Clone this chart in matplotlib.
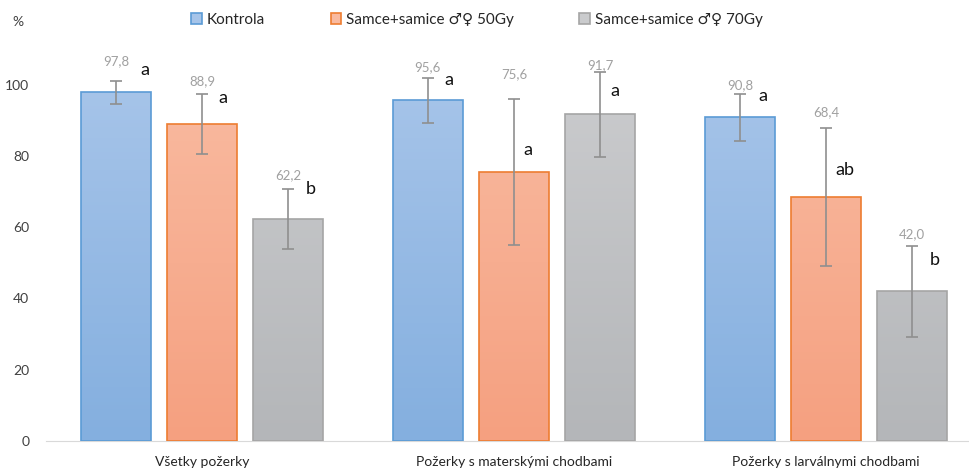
import numpy as np
import matplotlib
matplotlib.use("Agg")
import matplotlib.pyplot as plt
from matplotlib.colors import LinearSegmentedColormap

plt.rcParams['font.family'] = ['Lato', 'DejaVu Sans']

categories = ["Všetky požerky", "Požerky s materskými chodbami", "Požerky s larválnymi chodbami"]
series_names = ["Kontrola", "Samce+samice \u2642\u2640 50Gy", "Samce+samice \u2642\u2640 70Gy"]
kontrola = [97.8, 95.6, 90.8]
gy50 = [88.9, 75.6, 68.4]
gy70 = [62.2, 91.7, 42.0]
err_kontrola = [3.1, 6.3, 6.6]
err_gy50 = [8.4, 20.5, 19.4]
err_gy70 = [8.4, 11.9, 12.7]
letters_kontrola = ["a", "a", "a"]
letters_gy50 = ["a", "a", "ab"]
letters_gy70 = ["b", "a", "b"]

values = [kontrola, gy50, gy70]
errors = [err_kontrola, err_gy50, err_gy70]
letters = [letters_kontrola, letters_gy50, letters_gy70]

# gradient top / bottom colors and edge colors
grad = [("#a6c4e9", "#84afdf"), ("#f9baa0", "#f5a080"), ("#cacbcd", "#b4b6b9")]
edges = ["#5b9bd5", "#ed7d31", "#a5a5a5"]
# label offsets above error bar top, letter placement (x shift, y)
label_off = [[5.7, 2.9, 2.4], [3.6, 6.8, 4.5], [4.0, 1.9, 3.3]]
letter_dx = [[0.080, 0.052, 0.058], [0.052, 0.030, 0.030], [0.058, 0.032, 0.058]]
letter_y = [[104.0, 101.3, 96.8], [96.2, 81.6, 76.0], [70.7, 98.2, 50.8]]

fig = plt.figure(figsize=(9.7, 4.68), dpi=100)
ax = fig.add_axes([46 / 970, 1 - 441 / 468, 936 / 970, 392 / 468])

x = np.arange(len(categories))
width = 0.224
offsets = [-0.276, 0.0, 0.276]

for i in range(3):
    xs = x + offsets[i]
    bars = ax.bar(xs, values[i], width, color="none", edgecolor=edges[i],
                  linewidth=1.2, zorder=3, label=series_names[i])
    cmap = LinearSegmentedColormap.from_list("g%d" % i, [grad[i][1], grad[i][0]])
    for b in bars:
        bx, bw = b.get_x(), b.get_width()
        im = ax.imshow(np.linspace(0, 1, 100).reshape(-1, 1), cmap=cmap, origin="lower",
                       extent=[bx, bx + bw, 0, 100], aspect="auto", zorder=2)
        im.set_clip_path(b)
    ax.errorbar(xs, values[i], yerr=errors[i], fmt="none", ecolor="#8f8f8f",
                elinewidth=1.2, capsize=4, capthick=1.2, zorder=4)
    for j in range(3):
        top = values[i][j] + errors[i][j]
        ax.text(xs[j], top + label_off[i][j], ("%.1f" % values[i][j]).replace(".", ","),
                ha="center", va="center", fontsize=9.5, color="#a0a0a0", zorder=5)
        ax.text(xs[j] + letter_dx[i][j], letter_y[i][j], letters[i][j], ha="left", va="center",
                fontsize=13, color="#111111", zorder=5)

ax.set_xlim(-0.5, 2.5)
ax.set_ylim(0, 110)
ax.set_yticks([0, 20, 40, 60, 80, 100])
ax.set_xticks(x)
ax.set_xticklabels(categories)
ax.tick_params(axis="both", length=0, labelsize=10)
ax.tick_params(axis="y", pad=12, labelcolor="#404040")
ax.tick_params(axis="x", pad=11, labelcolor="#262626")
for s in ["top", "right", "left"]:
    ax.spines[s].set_visible(False)
ax.spines["bottom"].set_color("#d9d9d9")
ax.spines["bottom"].set_zorder(1)

fig.text(18 / 970, 1 - 22 / 468, "%", fontsize=10, color="#404040", ha="center", va="center")

handles = [plt.Rectangle((0, 0), 1, 1, facecolor=grad[i][0], edgecolor=edges[i], linewidth=1.2)
           for i in range(3)]
fig.legend(handles, series_names, loc="center", bbox_to_anchor=(477 / 970, 1 - 20 / 468),
           ncol=3, frameon=False, fontsize=11, handlelength=0.7, handleheight=0.7,
           handletextpad=0.3, columnspacing=4.3, labelcolor="#262626")

fig.savefig("out.png", dpi=100)
